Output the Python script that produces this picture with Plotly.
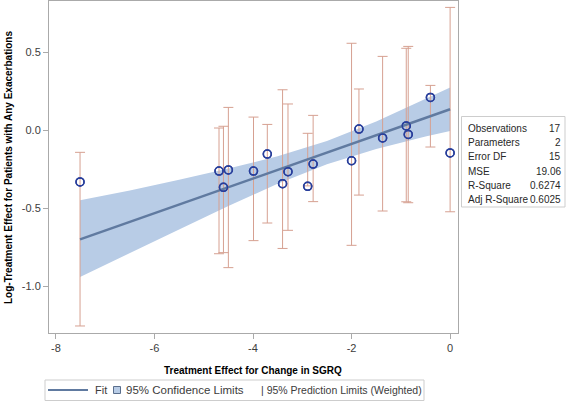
import plotly.graph_objects as go

# ---- data ----
sgrq_effect = [-7.51, -4.69, -4.60, -4.50, -3.99, -3.71, -3.40, -3.29, -2.89,
               -2.78, -2.00, -1.85, -1.37, -0.89, -0.85, -0.40, 0.00]
log_effect = [-0.333, -0.263, -0.367, -0.256, -0.263, -0.154, -0.344, -0.267, -0.361,
              -0.218, -0.197, 0.006, -0.051, 0.026, -0.028, 0.209, -0.147]
pred_upper = [-0.143, 0.013, 0.024, 0.145, 0.083, 0.036, 0.258, 0.167, -0.021,
              0.094, 0.556, 0.263, 0.472, 0.524, 0.536, 0.286, 0.786]
pred_lower = [-1.256, -0.793, -0.786, -0.882, -0.709, -0.596, -0.759, -0.643, -0.358,
              -0.459, -0.739, -0.417, -0.519, -0.460, -0.466, -0.109, -0.524]

fit_x = [-7.51, 0.00]
fit_y = [-0.701, 0.133]

band_x = [-7.51, -6.5, -5.5, -4.5, -3.5, -2.5, -1.5, -0.5, 0.0]
band_upper = [-0.450, -0.387, -0.319, -0.247, -0.168, -0.071, 0.054, 0.198, 0.272]
band_lower = [-0.942, -0.791, -0.637, -0.487, -0.344, -0.219, -0.122, -0.042, -0.006]

stat_names = ["Observations", "Parameters", "Error DF", "MSE", "R-Square", "Adj R-Square"]
stat_values = ["17", "2", "15", "19.06", "0.6274", "0.6025"]

legend_labels = ["Fit", "95% Confidence Limits", "| 95% Prediction Limits (Weighted)"]

x_ticks = [-8, -6, -4, -2, 0]
y_ticks = [-1.0, -0.5, 0.0, 0.5]

# ---- styling ----
FONT = "Arial, Liberation Sans, sans-serif"
BAND = "rgb(184,204,230)"
FIT = "rgb(96,122,160)"
MARK = "rgb(40,62,155)"
ERR = "rgb(214,160,145)"
FRAME = "rgb(170,170,170)"
TXT = "rgb(50,50,50)"

W, H = 567, 405
L, R, T, B = 49, 109, 1, 72
PW, PH = W - L - R, H - T - B


def px_x(px):
    return (px - L) / PW


def px_y(py):
    return (H - B - py) / PH


fig = go.Figure()

fig.add_trace(go.Scatter(
    x=band_x + band_x[::-1], y=band_upper + band_lower[::-1],
    fill="toself", fillcolor=BAND, line=dict(width=0, color=BAND),
    mode="lines", hoverinfo="skip", showlegend=False))

fig.add_trace(go.Scatter(
    x=sgrq_effect, y=log_effect, mode="markers",
    marker=dict(symbol="circle-open", size=8, color=MARK, line=dict(width=1.5, color=MARK)),
    error_y=dict(type="data", symmetric=False,
                 array=[u - v for u, v in zip(pred_upper, log_effect)],
                 arrayminus=[v - lo for v, lo in zip(log_effect, pred_lower)],
                 color=ERR, thickness=1, width=5),
    showlegend=False))

fig.add_trace(go.Scatter(
    x=fit_x, y=fit_y, mode="lines", line=dict(color=FIT, width=2.5), showlegend=False))

fig.add_trace(go.Scatter(
    x=sgrq_effect, y=log_effect, mode="markers",
    marker=dict(symbol="circle-open", size=8, color=MARK, line=dict(width=1.5, color=MARK)),
    showlegend=False, hoverinfo="skip"))

fig.update_layout(
    width=W, height=H,
    margin=dict(l=L, r=R, t=T, b=B),
    paper_bgcolor="white", plot_bgcolor="white",
    font=dict(family=FONT, size=11, color=TXT),
    showlegend=False,
    xaxis=dict(range=[-8.14, 0.16], tickvals=x_ticks, ticktext=[str(v) for v in x_ticks],
               showgrid=False, zeroline=False, showline=True, linecolor=FRAME, linewidth=1,
               mirror=True, ticks="outside", ticklen=5, tickcolor=FRAME,
               tickfont=dict(size=11, color="rgb(60,60,60)")),
    yaxis=dict(range=[-1.301, 0.827], tickvals=y_ticks, ticktext=[f"{v:.1f}" for v in y_ticks],
               showgrid=False, zeroline=False, showline=True, linecolor=FRAME, linewidth=1,
               mirror=True, ticks="outside", ticklen=5, tickcolor=FRAME,
               tickfont=dict(size=11, color="rgb(60,60,60)")),
)

annotations = [
    dict(text="<b>Log-Treatment Effect for Patients with Any Exacerbations</b>",
         xref="paper", yref="paper", x=px_x(8), y=px_y(168), textangle=-90,
         showarrow=False, xanchor="center", yanchor="middle",
         font=dict(size=10, color="black", family=FONT)),
    dict(text="<b>Treatment Effect for Change in SGRQ</b>",
         xref="paper", yref="paper", x=px_x(253), y=px_y(370),
         showarrow=False, xanchor="center", yanchor="middle",
         font=dict(size=10, color="black", family=FONT)),
]

row_y0, row_dy = 128.5, 14.2
for i, (n, v) in enumerate(zip(stat_names, stat_values)):
    yy = px_y(row_y0 + i * row_dy)
    annotations.append(dict(text=n, xref="paper", yref="paper", x=px_x(466), y=yy,
                            xanchor="left", yanchor="middle", showarrow=False,
                            font=dict(size=10, color="rgb(40,40,40)", family=FONT)))
    annotations.append(dict(text=v, xref="paper", yref="paper", x=px_x(563), y=yy,
                            xanchor="right", yanchor="middle", showarrow=False,
                            font=dict(size=10, color="rgb(40,40,40)", family=FONT)))

# legend (drawn manually to match the compact SAS-style legend)
leg_y = px_y(390)
for txt, xpos, fs in zip(legend_labels, [93, 124, 259], [11, 11.5, 10.5]):
    annotations.append(dict(text=txt, xref="paper", yref="paper", x=px_x(xpos), y=leg_y,
                            xanchor="left", yanchor="middle", showarrow=False,
                            font=dict(size=fs, color="rgb(60,60,60)", family=FONT)))

fig.update_layout(annotations=annotations)

shapes = [
    dict(type="rect", xref="paper", yref="paper",
         x0=px_x(461.5), x1=px_x(565), y0=px_y(116.5), y1=px_y(207),
         line=dict(color="rgb(205,205,205)", width=1), fillcolor="rgba(0,0,0,0)"),
    dict(type="rect", xref="paper", yref="paper",
         x0=px_x(45), x1=px_x(424), y0=px_y(380), y1=px_y(400.5),
         line=dict(color="rgb(205,205,205)", width=1), fillcolor="rgba(0,0,0,0)"),
    dict(type="line", xref="paper", yref="paper",
         x0=px_x(48), x1=px_x(88), y0=leg_y, y1=leg_y,
         line=dict(color=FIT, width=2)),
    dict(type="rect", xref="paper", yref="paper",
         x0=px_x(113.5), x1=px_x(120.5), y0=px_y(386.5), y1=px_y(393.5),
         line=dict(color="rgb(90,110,140)", width=1), fillcolor=BAND),
]
fig.update_layout(shapes=shapes)

fig.write_html("out.html", config={"displayModeBar": False},
               post_script="document.body.style.margin='0';")
